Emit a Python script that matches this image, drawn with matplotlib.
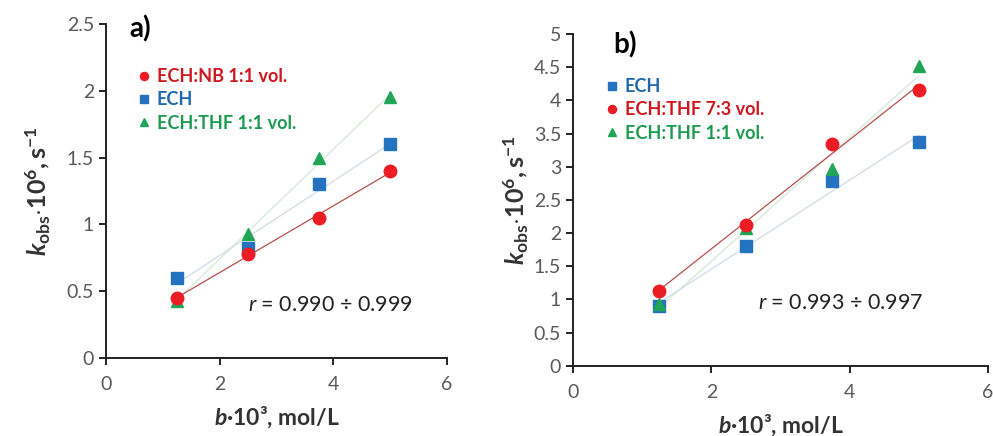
import numpy as np
import matplotlib
matplotlib.use('Agg')
import matplotlib.pyplot as plt

plt.rcParams['font.family'] = ['Lato', 'DejaVu Sans']
plt.rcParams['mathtext.fontset'] = 'custom'
plt.rcParams['mathtext.rm'] = 'Lato:bold'
plt.rcParams['mathtext.bf'] = 'Lato:bold'
plt.rcParams['mathtext.it'] = 'Lato:bold:italic'
plt.rcParams['mathtext.sf'] = 'Lato:italic'

# concentrations b*10^3, mol/L
conc = [1.25, 2.5, 3.75, 5.0]

# panel a)
a_nb = [0.45, 0.78, 1.05, 1.40]
a_ech = [0.60, 0.82, 1.30, 1.60]
a_thf11 = [0.43, 0.93, 1.50, 1.95]

# panel b)
b_ech = [0.90, 1.80, 2.78, 3.37]
b_thf73 = [1.13, 2.12, 3.35, 4.15]
b_thf11 = [0.93, 2.08, 2.97, 4.52]

red = '#ec1c24'
blue = '#2472c0'
green = '#21a557'
tick_col = '#595959'

fig = plt.figure(figsize=(9.93, 4.36), dpi=100)
ax1 = fig.add_axes([0.1067, 0.179, 0.3434, 0.766])
ax2 = fig.add_axes([0.577, 0.161, 0.418, 0.761])


def trend(ax, y, color):
    k, b = np.polyfit(conc, y, 1)
    xs = np.array([conc[0], conc[-1]])
    ax.plot(xs, k * xs + b, color=color, lw=0.9, zorder=1)


def style(ax, ymax, ystep):
    ax.set_xlim(0, 6)
    ax.set_ylim(0, ymax)
    ax.set_xticks([0, 2, 4, 6])
    yt = np.arange(0, ymax + 0.01, ystep)
    ax.set_yticks(yt)
    ax.set_yticklabels(['%g' % v for v in yt])
    for s in ['top', 'right']:
        ax.spines[s].set_visible(False)
    for s in ['left', 'bottom']:
        ax.spines[s].set_linewidth(1.4)
        ax.spines[s].set_color('#222222')
    ax.tick_params(labelsize=14, colors='#222222', labelcolor=tick_col,
                   width=1.4, length=5)
    ax.tick_params(axis='x', pad=8)
    ax.set_xlabel(r'$b$·10³, mol/L', fontsize=16.5, fontweight='bold',
                  color='#333333', labelpad=8)
    ax.set_ylabel(r'$k_{\mathrm{obs}}\mathrm{\cdot10^{6}, s^{-1}}$',
                  fontsize=18, color='#333333')


legend_kw = dict(loc='upper left', frameon=False, handlelength=0.6,
                 handletextpad=0.4, labelspacing=0.35, markerscale=0.65,
                 borderpad=0, prop={'weight': 'bold', 'size': 13})

# panel a
trend(ax1, a_thf11, '#d3e8d8')
trend(ax1, a_ech, '#cfdbe8')
trend(ax1, a_nb, '#b2504e')
ax1.plot(conc, a_nb, 'o', color=red, ms=9, label='ECH:NB 1:1 vol.', zorder=3)
ax1.plot(conc, a_ech, 's', color=blue, ms=9, label='ECH', zorder=2)
ax1.plot(conc, a_thf11, '^', color=green, ms=9, label='ECH:THF 1:1 vol.', zorder=2)
style(ax1, 2.5, 0.5)
ax1.yaxis.labelpad = 10
ax1.text(0.42, 2.46, 'a)', fontsize=20, fontweight='bold', va='center')
ax1.text(2.5, 0.40, r'$\mathsf{r}$ = 0.990 ÷ 0.999', fontsize=15.5,
         color='#222222', va='center')
leg1 = ax1.legend(bbox_to_anchor=(0.07, 0.895), **legend_kw)
for t, c in zip(leg1.get_texts(), ['#d0161e', '#1f66ad', '#1c9a50']):
    t.set_color(c)

# panel b
trend(ax2, b_thf11, '#d3e8d8')
trend(ax2, b_ech, '#cfdbe8')
trend(ax2, b_thf73, '#b2504e')
ax2.plot(conc, b_ech, 's', color=blue, ms=9, label='ECH', zorder=2)
ax2.plot(conc, b_thf73, 'o', color=red, ms=9, label='ECH:THF 7:3 vol.', zorder=3)
ax2.plot(conc, b_thf11, '^', color=green, ms=9, label='ECH:THF 1:1 vol.', zorder=2)
style(ax2, 5, 0.5)
ax2.yaxis.labelpad = 2
ax2.text(0.58, 4.84, 'b)', fontsize=20, fontweight='bold', va='center')
ax2.text(2.67, 0.95, r'$\mathsf{r}$ = 0.993 ÷ 0.997', fontsize=15.5,
         color='#222222', va='center')
leg2 = ax2.legend(bbox_to_anchor=(0.06, 0.895), **legend_kw)
for t, c in zip(leg2.get_texts(), ['#1f66ad', '#d0161e', '#1c9a50']):
    t.set_color(c)

fig.savefig('out.png', dpi=100)
